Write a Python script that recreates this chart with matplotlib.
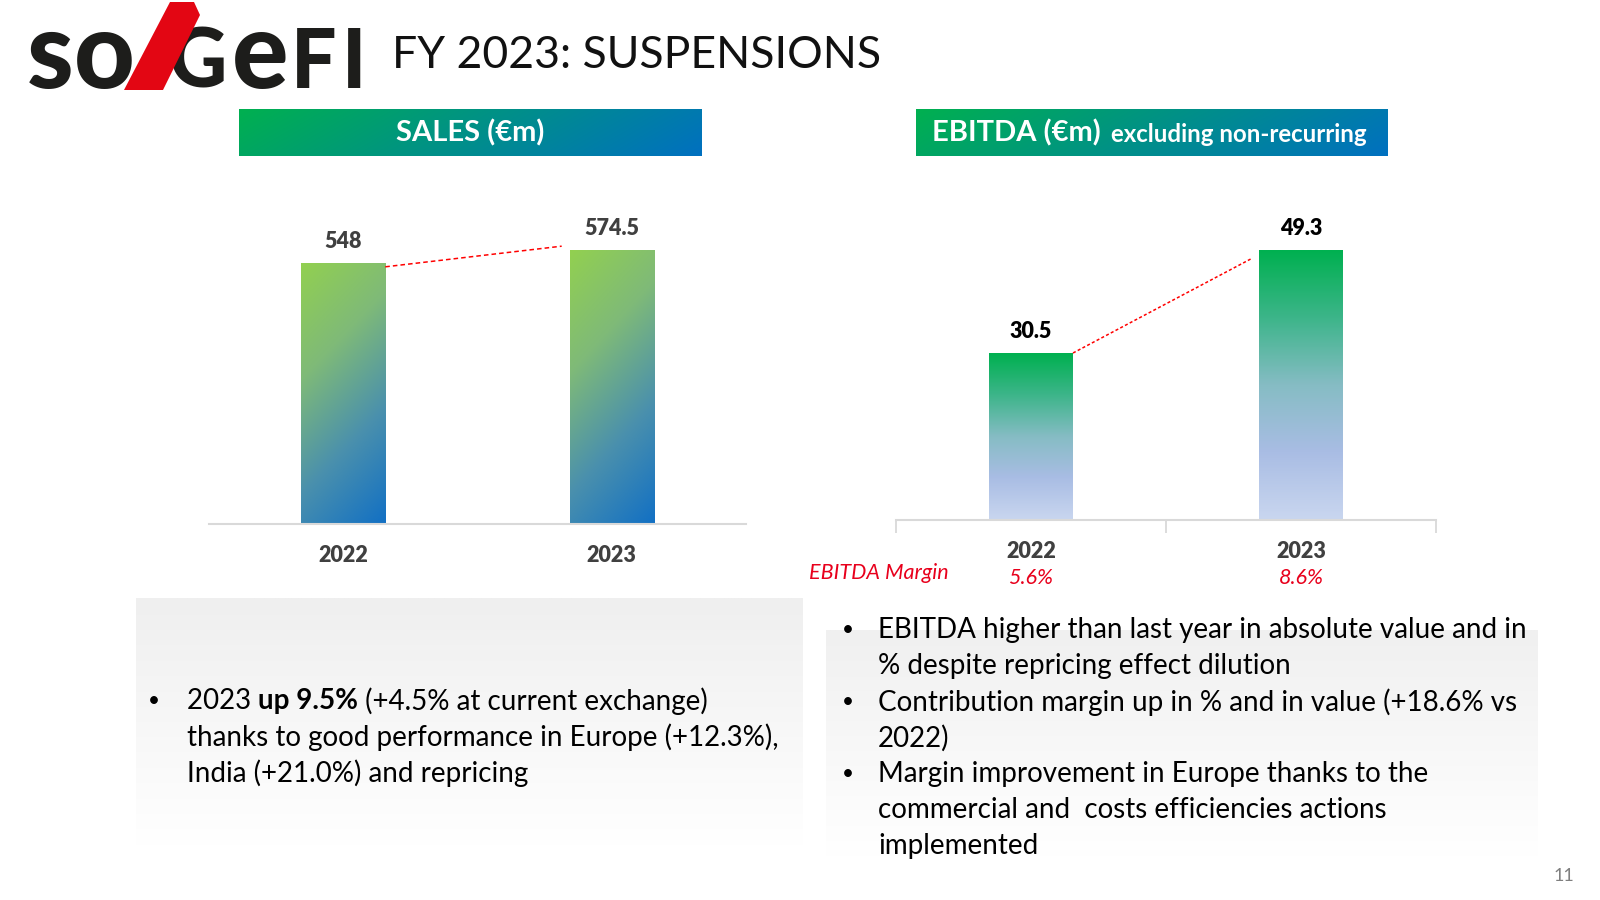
import numpy as np
import matplotlib
matplotlib.use('Agg')
import matplotlib.pyplot as plt
from matplotlib.colors import LinearSegmentedColormap
from matplotlib.patches import Polygon

# ── Data ──────────────────────────────────────────────────────────────────────
YEARS = ['2022', '2023']
SALES = [548, 574.5]
EBITDA = [30.5, 49.3]
EBITDA_MARGIN = [5.6, 8.6]

TITLE = 'FY 2023: SUSPENSIONS'
SALES_NOTES = [
    [[('2023 ', 'normal'), ('up 9.5%', 'bold'), (' (+4.5% at current exchange)', 'normal')],
     [('thanks to good performance in Europe (+12.3%),', 'normal')],
     [('India (+21.0%) and repricing', 'normal')]],
]
EBITDA_NOTES = [
    ['EBITDA higher than last year in absolute value and in',
     '% despite repricing effect dilution'],
    ['Contribution margin up in % and in value (+18.6% vs',
     '2022)'],
    ['Margin improvement in Europe thanks to the',
     'commercial and  costs efficiencies actions',
     'implemented'],
]

W, H = 1600, 900
FONT = 'Lato'
GREY_TXT = '#404040'
RED = '#e8001c'
LABEL_WEIGHT = 'heavy'

fig = plt.figure(figsize=(16, 9), dpi=100)
bg = fig.add_axes([0, 0, 1, 1], zorder=0)
bg.set_xlim(0, W)
bg.set_ylim(H, 0)
bg.set_autoscale_on(False)
bg.axis('off')
renderer = fig.canvas.get_renderer()


def px_axes(x0, y0, x1, y1):
    a = fig.add_axes([x0 / W, 1 - y1 / H, (x1 - x0) / W, (y1 - y0) / H], zorder=2)
    a.patch.set_alpha(0)
    return a


def grad_box(x0, y0, x1, y1, colors, horizontal=True, diag=0.0, z=0):
    cmap = LinearSegmentedColormap.from_list('g', colors)
    u = np.linspace(0, 1, 200)[None, :]
    v = np.linspace(0, 1, 100)[:, None]
    t = (1 - diag) * u + diag * v if horizontal else (1 - diag) * v + diag * u
    bg.imshow(t, cmap=cmap, extent=(x0, x1, y1, y0), origin='upper',
              aspect='auto', vmin=0, vmax=1, interpolation='bilinear', zorder=z)


def text_width(s, **kw):
    a = bg.text(0, 0, 'x' + s + 'x', **kw)
    b = bg.text(0, 0, 'xx', **kw)
    w = a.get_window_extent(renderer).width - b.get_window_extent(renderer).width
    a.remove()
    b.remove()
    return w


def draw_runs(x, y, runs, size):
    for txt, weight in runs:
        kw = dict(fontsize=size, fontweight=weight, family=FONT, color='black')
        bg.text(x, y, txt, va='center', ha='left', **kw)
        x += text_width(txt, **kw)


def fill_bars(ax, bars, colors, diag):
    cmap = LinearSegmentedColormap.from_list('b', colors)
    u = np.linspace(0, 1, 60)[None, :]
    v = np.linspace(0, 1, 300)[:, None]
    t = (1 - diag) * v + diag * u
    for p in bars.patches:
        x0, w, h = p.get_x(), p.get_width(), p.get_height()
        im = ax.imshow(t, cmap=cmap, extent=(x0, x0 + w, 0, h), origin='upper',
                       aspect='auto', vmin=0, vmax=1, interpolation='bilinear', zorder=2)
        im.set_clip_path(p)


def style_axis(ax):
    for s in ('top', 'left', 'right'):
        ax.spines[s].set_visible(False)
    ax.spines['bottom'].set_color('#d9d9d9')
    ax.spines['bottom'].set_linewidth(1.5)
    ax.set_yticks([])


# ── Logo + title ──────────────────────────────────────────────────────────────
logo_kw = dict(family=FONT, fontweight='black', color='#1d1d1b', va='baseline', ha='center')
bg.text(50, 88, 's', fontsize=76, **logo_kw)
bg.text(104, 88, 'o', fontsize=76, **logo_kw)
bg.text(197, 88, 'G', fontsize=58, **logo_kw)
bg.text(260, 88, 'e', fontsize=76, **logo_kw)
bg.text(314, 88, 'F', fontsize=58, **logo_kw)
bg.text(354, 88, 'I', fontsize=58, **logo_kw)
bg.add_patch(Polygon([(124, 90), (163, 90), (200, 15), (194, 2), (170, 2)],
                     closed=True, fc='#e30613', ec='none', zorder=3))
bg.text(392, 55, TITLE, fontsize=32, family=FONT, fontweight='normal',
        color='#111111', va='center', ha='left')

# ── Section headers ───────────────────────────────────────────────────────────
grad_box(239, 109, 702, 156, ['#00b050', '#0070c0'], diag=0.15)
bg.text(470, 133, 'SALES (€m)', fontsize=21, family=FONT, fontweight='bold',
        color='white', va='center', ha='center', zorder=2)
grad_box(916, 109, 1388, 156, ['#00b050', '#0070c0'], diag=0.15)
hdr_kw = dict(family=FONT, fontweight='bold', color='white', va='center', ha='left', zorder=2)
bg.text(932, 133, 'EBITDA (€m)', fontsize=21, **hdr_kw)
bg.text(1111, 135, 'excluding non-recurring', fontsize=17.3, **hdr_kw)

# ── Sales chart ───────────────────────────────────────────────────────────────
ax1 = px_axes(209, 180, 746, 524)
x = np.arange(len(YEARS))
bw = 0.313
b1 = ax1.bar(x, SALES, bw, color='none', edgecolor='none')
fill_bars(ax1, b1, ['#92d050', '#7fba78', '#4a90ad', '#1270c4'], diag=0.25)
ax1.plot([x[0] + bw / 2, x[1] - bw / 2 - 0.03], [SALES[0] * 0.985, SALES[1] * 1.015],
         color='#ff0000', lw=1.1, ls=(0, (3, 2)), zorder=3)
ax1.bar_label(b1, labels=[f'{v:g}' for v in SALES], padding=8, fontsize=15.5,
              family=FONT, fontweight=LABEL_WEIGHT, color=GREY_TXT)
ax1.set_xlim(-0.5, 1.5)
ax1.set_ylim(0, 722)
style_axis(ax1)
ax1.set_xticks(x)
ax1.set_xticklabels(YEARS, fontsize=15.5, family=FONT, fontweight=LABEL_WEIGHT, color=GREY_TXT)
ax1.tick_params(axis='x', length=0, pad=15)

# ── EBITDA chart ──────────────────────────────────────────────────────────────
ax2 = px_axes(896, 180, 1436, 520)
bw2 = 0.311
b2 = ax2.bar(x, EBITDA, bw2, color='none', edgecolor='none')
fill_bars(ax2, b2, ['#00b050', '#3db58a', '#86bcc4', '#a9bde4', '#c9d6ef'], diag=0.0)
ax2.plot([x[0] + bw2 / 2, x[1] - bw2 / 2 - 0.025], [EBITDA[0], EBITDA[1] * 0.97],
         color='#ff0000', lw=1.1, ls=(0, (2, 1.5)), zorder=3)
ax2.bar_label(b2, labels=[f'{v:g}' for v in EBITDA], padding=8, fontsize=15.5,
              family=FONT, fontweight=LABEL_WEIGHT, color='black')
ax2.set_xlim(-0.5, 1.5)
ax2.set_ylim(0, 62.1)
style_axis(ax2)
ax2.set_xticks([-0.5, 0.5, 1.5])
ax2.set_xticklabels([])
ax2.tick_params(axis='x', which='major', length=9, width=1.3, color='#d9d9d9')
ax2.set_xticks(x, minor=True)
ax2.set_xticklabels(YEARS, minor=True, fontsize=15.5, family=FONT,
                    fontweight=LABEL_WEIGHT, color=GREY_TXT)
ax2.tick_params(axis='x', which='minor', length=0, pad=15)
yfrac = (520 - 578) / (520 - 180)
for xi, m in zip(x, EBITDA_MARGIN):
    ax2.text(xi, yfrac, f'{m:.1f}%', transform=ax2.get_xaxis_transform(), fontsize=15.5,
             family=FONT, style='italic', color=RED, ha='center', va='center')
bg.text(879, 573, 'EBITDA Margin', fontsize=15.5, family=FONT, style='italic',
        color=RED, ha='center', va='center')

# ── Commentary boxes ──────────────────────────────────────────────────────────
grad_box(136, 598, 803, 846, ['#efefef', '#ffffff'], horizontal=False)
grad_box(826, 630, 1538, 857, ['#f0f0f0', '#ffffff'], horizontal=False)

BODY = 20
BULLET = 15
LINE = 36
y = 701
for item in SALES_NOTES:
    bg.text(154, y, '•', fontsize=BULLET, family=FONT, va='center', ha='center')
    for runs in item:
        draw_runs(187, y, runs, BODY)
        y += LINE

y = 630
for item in EBITDA_NOTES:
    bg.text(848, y, '•', fontsize=BULLET, family=FONT, va='center', ha='center')
    for line in item:
        bg.text(878, y, line, fontsize=BODY, family=FONT, color='black', va='center', ha='left')
        y += LINE

bg.text(1564, 876, '11', fontsize=13, family=FONT, color='#7f7f7f', va='center', ha='center')

fig.savefig('out.png', dpi=100)
